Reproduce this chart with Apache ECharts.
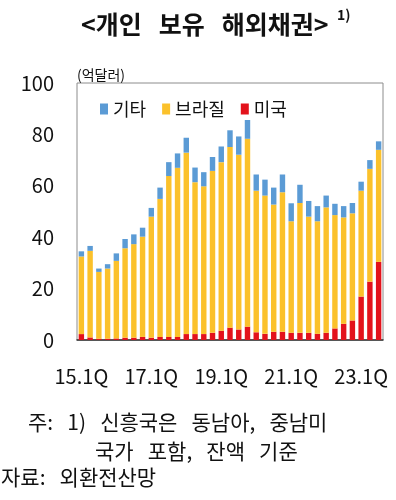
<!DOCTYPE html>
<html>
<head>
<meta charset="utf-8">
<script src="https://cdn.jsdelivr.net/npm/echarts@6/dist/echarts.min.js"></script>
<style>
  html, body { margin: 0; padding: 0; background: #fff; }
  #chart { width: 396px; height: 500px; }
</style>
</head>
<body>
<div id="chart"></div>
<script>
// 분기
const quarters = [
  '15.1Q','15.2Q','15.3Q','15.4Q','16.1Q','16.2Q','16.3Q','16.4Q',
  '17.1Q','17.2Q','17.3Q','17.4Q','18.1Q','18.2Q','18.3Q','18.4Q',
  '19.1Q','19.2Q','19.3Q','19.4Q','20.1Q','20.2Q','20.3Q','20.4Q',
  '21.1Q','21.2Q','21.3Q','21.4Q','22.1Q','22.2Q','22.3Q','22.4Q',
  '23.1Q','23.2Q','23.3Q'
];
// 미국 (억달러)
const usa = [2.3,1.0,0.5,0.5,0.6,0.9,0.9,1.2,0.9,1.2,1.2,1.2,2.3,2.3,2.3,2.8,3.6,4.8,
  4.1,5.2,3.0,2.4,3.2,3.2,2.8,2.8,2.8,2.4,2.8,4.5,6.3,7.6,16.9,22.7,30.4];
// 브라질
const brazil = [30.2,33.7,26.0,27.3,30.2,34.8,36.4,39.0,47.1,53.7,62.6,65.8,70.6,59.1,57.5,63.0,65.6,70.3,
  68.0,73.1,55.1,53.8,49.5,54.3,43.4,50.5,45.2,43.8,48.8,44.1,41.4,41.7,41.2,43.9,43.6];
// 기타
const others = [2.0,1.9,1.3,1.7,2.9,3.6,3.8,3.5,3.4,4.4,5.4,5.6,5.8,5.7,5.5,5.4,6.1,6.5,
  7.1,7.3,6.3,6.2,6.6,6.9,7.0,7.1,6.1,5.9,4.6,4.4,4.4,4.0,3.5,3.4,3.3];
const yTicks = [0, 20, 40, 60, 80, 100];

const FONT = '"Noto Sans CJK KR", "Noto Sans", sans-serif';

let myChart = echarts.init(document.getElementById('chart'));
let option = {
  animation: false,
  textStyle: { fontFamily: FONT },
  grid: {
    left: 77, right: 13, top: 83, bottom: 160,
    show: true, borderColor: '#8c8c8c', borderWidth: 1
  },
  legend: {
    data: ['기타', '브라질', '미국'],
    left: 95, top: 95,
    icon: 'rect',
    itemWidth: 8, itemHeight: 11, itemGap: 16,
    textStyle: { fontSize: 18, color: '#111', fontFamily: FONT }
  },
  xAxis: {
    type: 'category',
    data: quarters,
    axisLine: { lineStyle: { color: '#333', width: 1.5 } },
    axisTick: {
      inside: true, length: 8,
      interval: function (i) { return i % 4 === 0 && i > 0; },
      lineStyle: { color: '#888', width: 1.5 }
    },
    axisLabel: {
      interval: function (i) { return i % 8 === 0; },
      fontSize: 20, color: '#111', margin: 26, fontFamily: FONT
    }
  },
  yAxis: {
    type: 'value',
    min: yTicks[0], max: yTicks[yTicks.length - 1], interval: 20,
    axisLine: { show: false },
    axisTick: { show: false },
    splitLine: { show: false },
    axisLabel: { fontSize: 20, color: '#111', margin: 23, fontFamily: FONT }
  },
  series: [
    { name: '미국', type: 'bar', stack: 'total', data: usa, barWidth: '62%',
      itemStyle: { color: '#e3121b' } },
    { name: '브라질', type: 'bar', stack: 'total', data: brazil,
      itemStyle: { color: '#fbc12b' } },
    { name: '기타', type: 'bar', stack: 'total', data: others,
      itemStyle: { color: '#5b9bd5' } }
  ],
  graphic: [
    { type: 'text', x: 81, y: 24,
      style: { text: '<개인   보유   해외채권>', font: 'bold 25px ' + FONT, fill: '#111',
        textVerticalAlign: 'middle' } },
    { type: 'text', x: 337, y: 8,
      style: { text: '1)', font: 'bold 14px ' + FONT, fill: '#111' } },
    { type: 'text', x: 77, y: 68,
      style: { text: '(억달러)', font: '14px ' + FONT, fill: '#111' } },
    { type: 'text', x: 28, y: 422,
      style: { text: '주:   1)   신흥국은   동남아,   중남미', font: '21px ' + FONT, fill: '#111',
        textVerticalAlign: 'middle' } },
    { type: 'text', x: 95, y: 451,
      style: { text: '국가   포함,   잔액   기준', font: '21px ' + FONT, fill: '#111',
        textVerticalAlign: 'middle' } },
    { type: 'text', x: 1, y: 477,
      style: { text: '자료:   외환전산망', font: '21px ' + FONT, fill: '#111',
        textVerticalAlign: 'middle' } }
  ]
};
myChart.setOption(option);
window.addEventListener('resize', function () { myChart.resize(); });
</script>
</body>
</html>
